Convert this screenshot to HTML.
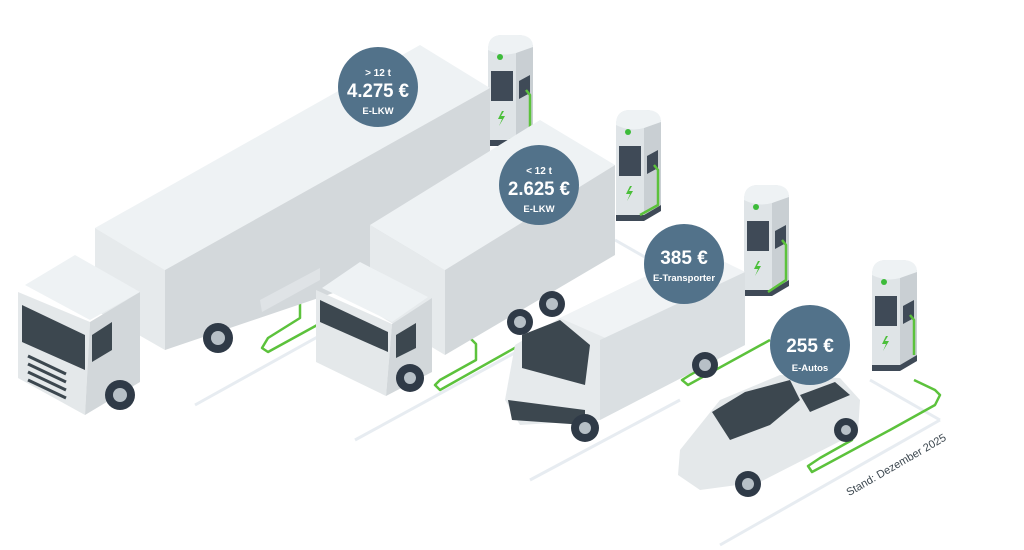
<!DOCTYPE html>
<html><head><meta charset="utf-8"><style>
html,body{margin:0;padding:0;background:#fff;}
svg{display:block}
text{font-family:"Liberation Sans",sans-serif;fill:#fff;font-weight:bold;text-anchor:middle}
</style></head><body>
<svg width="1024" height="550" viewBox="0 0 1024 550" xmlns="http://www.w3.org/2000/svg">
<defs>
<g id="chg">
  <path d="M0,105 L0,15 Q0,0 14,0 L30,0 Q45,0 45,15 L45,95 L28,105 Z" fill="#dfe4e7"/>
  <path d="M28,105 L28,18 L45,10 L45,95 Z" fill="#c9cfd3"/>
  <path d="M0,15 Q0,0 14,0 L30,0 Q45,0 45,12 L28,18 Q14,22 0,15Z" fill="#eef2f4"/>
  <rect x="3" y="36" width="22" height="30" fill="#3f4a57"/>
  <polygon points="31,46 42,40 42,58 31,64" fill="#3f4a57"/>
  <circle cx="12" cy="22" r="3" fill="#3dbb3a"/>
  <path d="M14,76 L10,84 L14,84 L11,91 L17,81 L13,81 L16,76Z" fill="#4bbf3a"/>
  <polygon points="0,105 28,105 45,95 45,101 28,111 0,111" fill="#3f4a57"/>
</g>
</defs>
<g stroke="#e7ecf1" stroke-width="3" fill="none">
<line x1="195" y1="405" x2="330" y2="330"/>
<line x1="355" y1="440" x2="520" y2="350"/>
<line x1="530" y1="480" x2="680" y2="400"/>
<line x1="720" y1="545" x2="940" y2="420"/>
<line x1="615" y1="240" x2="650" y2="260"/>
<line x1="870" y1="380" x2="940" y2="420"/>
</g>
<use href="#chg" x="488" y="35"/>
<use href="#chg" x="616" y="110"/>
<use href="#chg" x="744" y="185"/>
<use href="#chg" x="872" y="260"/>
<g stroke="#5cc23c" stroke-width="2.5" fill="none" stroke-linejoin="round">
<polyline points="526,90 530,95 530,130 510,140"/>
<polyline points="654,165 658,170 658,205 640,215"/>
<polyline points="782,240 786,245 786,280 768,292"/>
<polyline points="910,315 914,320 914,355"/>
<polyline points="293,292 300,298 300,318 268,338 262,348 268,352 330,318"/>
<polyline points="470,338 476,344 476,360 440,380 435,385 440,390 520,345"/>
<polyline points="710,332 716,338 716,360 690,375 682,380 688,385 770,340"/>
<polyline points="845,410 852,418 852,440 820,458 808,466 812,472 890,430 935,405 940,395 935,390 914,380"/>
</g>
<polygon points="95,228 420,45 490,88 165,270" fill="#eef2f4"/>
<polygon points="165,270 490,88 490,240 165,350" fill="#d3d8db"/>
<polygon points="95,228 165,270 165,350 95,310" fill="#e6eaec"/>
<polygon points="260,300 320,268 320,280 262,312" fill="#dfe3e6"/>
<circle cx="218" cy="338" r="15" fill="#2f3a47"/><circle cx="218" cy="338" r="7" fill="#b7c0c7"/>
<polygon points="25,285 75,255 140,292 90,320" fill="#eef2f4"/>
<polygon points="18,292 90,322 85,415 18,378" fill="#e4e8ea"/>
<polygon points="90,322 140,292 140,382 85,415" fill="#d2d7da"/>
<polygon points="22,305 85,335 85,370 22,342" fill="#3c474f"/>
<polygon points="92,335 112,322 112,350 92,362" fill="#3c474f"/>
<g stroke="#3c474f" stroke-width="3"><line x1="28" y1="356" x2="66" y2="374"/><line x1="28" y1="364" x2="66" y2="382"/><line x1="28" y1="372" x2="66" y2="390"/><line x1="28" y1="380" x2="66" y2="398"/></g>
<circle cx="120" cy="395" r="15" fill="#2f3a47"/><circle cx="120" cy="395" r="7" fill="#b7c0c7"/>
<polygon points="370,225 540,120 615,165 445,270" fill="#eef2f4"/>
<polygon points="445,270 615,165 615,255 445,355" fill="#d3d8db"/>
<polygon points="370,225 445,270 445,355 370,310" fill="#e6eaec"/>
<circle cx="520" cy="322" r="13" fill="#2f3a47"/><circle cx="520" cy="322" r="6" fill="#b7c0c7"/>
<circle cx="552" cy="304" r="13" fill="#2f3a47"/><circle cx="552" cy="304" r="6" fill="#b7c0c7"/>
<polygon points="322,288 360,262 428,297 392,322" fill="#eef2f4"/>
<polygon points="316,290 392,324 386,396 316,362" fill="#e4e8ea"/>
<polygon points="392,324 432,298 432,372 386,396" fill="#d2d7da"/>
<polygon points="320,300 388,332 388,352 320,322" fill="#3c474f"/>
<polygon points="396,335 416,323 416,348 396,358" fill="#3c474f"/>
<circle cx="410" cy="378" r="14" fill="#2f3a47"/><circle cx="410" cy="378" r="6" fill="#b7c0c7"/>
<polygon points="515,345 560,318 700,250 745,272 745,345 600,420 520,425 505,400" fill="#e6eaec"/>
<polygon points="560,318 700,250 745,272 610,340" fill="#f0f3f5"/>
<polygon points="600,340 745,272 745,345 600,420" fill="#dadfe2"/>
<polygon points="522,335 560,320 590,345 585,385 522,368" fill="#3c474f"/>
<polygon points="508,400 585,410 585,425 512,420" fill="#3c474f"/>
<circle cx="585" cy="428" r="14" fill="#2f3a47"/><circle cx="585" cy="428" r="6" fill="#b7c0c7"/>
<circle cx="705" cy="365" r="13" fill="#2f3a47"/><circle cx="705" cy="365" r="6" fill="#b7c0c7"/>
<polygon points="680,450 720,400 780,375 840,378 860,400 858,432 760,482 700,490 678,475" fill="#e4e8ea"/>
<polygon points="712,412 745,392 790,380 800,400 770,425 730,440" fill="#3c474f"/>
<polygon points="800,395 835,382 850,395 810,412" fill="#3c474f"/>
<circle cx="748" cy="484" r="13" fill="#2f3a47"/><circle cx="748" cy="484" r="6" fill="#b7c0c7"/>
<circle cx="846" cy="430" r="12" fill="#2f3a47"/><circle cx="846" cy="430" r="5" fill="#b7c0c7"/>
<g fill="#52728a">
<circle cx="378" cy="87" r="40"/><circle cx="539" cy="185" r="40"/><circle cx="684" cy="264" r="40"/><circle cx="810" cy="345" r="40"/>
</g>
<text x="378" y="76" font-size="10">&gt; 12 t</text>
<text x="378" y="97" font-size="19" textLength="62" lengthAdjust="spacingAndGlyphs">4.275 €</text>
<text x="378" y="114" font-size="9.5">E-LKW</text>
<text x="539" y="174" font-size="10">&lt; 12 t</text>
<text x="539" y="195" font-size="19" textLength="62" lengthAdjust="spacingAndGlyphs">2.625 €</text>
<text x="539" y="212" font-size="9.5">E-LKW</text>
<text x="684" y="264" font-size="19">385 €</text>
<text x="684" y="281" font-size="9" textLength="62" lengthAdjust="spacingAndGlyphs">E-Transporter</text>
<text x="810" y="352" font-size="19">255 €</text>
<text x="810" y="371" font-size="9.5">E-Autos</text>
<text x="898" y="468" font-size="11" style="fill:#3c474f;font-weight:normal" transform="rotate(-30 898 468)">Stand: Dezember  2025</text>
</svg>
</body></html>
